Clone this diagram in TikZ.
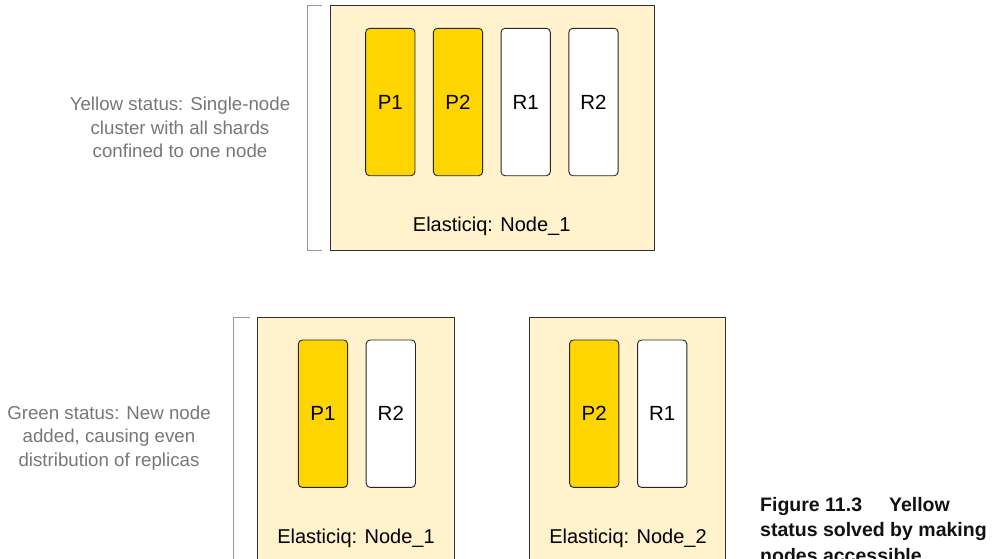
\documentclass[tikz,border=0pt]{standalone}
\usepackage{fontspec}
\setmainfont{Liberation Sans}
\definecolor{contfill}{HTML}{FFF2CC}
\definecolor{primfill}{HTML}{FFD500}
\definecolor{labgray}{HTML}{777777}
\definecolor{brkgray}{HTML}{999999}
\definecolor{capcol}{HTML}{111111}
\begin{document}
\begin{tikzpicture}[x=1pt,y=-1pt,
  cont/.style={draw=black!80, fill=contfill, line width=0.9pt, inner sep=0pt},
  shard/.style={draw=black!85, rounded corners=4pt, minimum width=49.3pt, minimum height=147.4pt, inner sep=0pt, line width=0.9pt, font=\fontsize{20.5}{24}\selectfont},
  prim/.style={shard, fill=primfill},
  repl/.style={shard, fill=white},
  nodelab/.style={inner sep=0pt, font=\fontsize{20}{24}\selectfont},
  status/.style={align=center, text=labgray, inner sep=0pt, font=\fontsize{18.7}{23.4}\selectfont},
  brk/.style={draw=brkgray, line width=0.9pt},
  captext/.style={anchor=base west, inner sep=0pt, text=capcol, font=\fontsize{19.5}{25}\selectfont\bfseries}]
\useasboundingbox (0,0) rectangle (992,558);
\clip (0,0) rectangle (992,558);
% top cluster
\node[cont, minimum width=324pt, minimum height=245.7pt] (c1) at (492,127.85) {};
\node[prim] (t1) at (390.3,102) {P1};
\node[prim] (t2) at (458,102) {P2};
\node[repl] (t3) at (525.7,102) {R1};
\node[repl] (t4) at (593.5,102) {R2};
\node[nodelab] (c1lab) at (491.7,226.7) {Elasticiq: Node\_1};
\draw[brk] (322,5) -| (307,250.7) -- (322,250.7);
\node[status] (s1) at (180,127.5) {Yellow status: Single-node\\cluster with all shards\\confined to one node};
% bottom cluster
\node[cont, minimum width=197pt, minimum height=290pt] (n1) at (355.8,462.3) {};
\node[cont, minimum width=196.7pt, minimum height=290pt] (n2) at (627.35,462.3) {};
\node[prim] (b1) at (323,413.7) {P1};
\node[repl] (b2) at (390.8,413.7) {R2};
\node[prim] (b3) at (594.2,413.7) {P2};
\node[repl] (b4) at (662.2,413.7) {R1};
\node[nodelab] (n1lab) at (356,538.3) {Elasticiq: Node\_1};
\node[nodelab] (n2lab) at (628,538.3) {Elasticiq: Node\_2};
\draw[brk] (250,317.3) -| (233.3,600);
\node[status] (s2) at (109,438) {Green status: New node\\added, causing even\\distribution of replicas};
% caption
\node[captext] (cap1) at (760,511) {Figure 11.3\hspace{27pt}Yellow};
\node[captext] (cap2) at (760,536) {status solved by making};
\node[captext] (cap3) at (760,562) {nodes accessible};
\end{tikzpicture}
\end{document}
